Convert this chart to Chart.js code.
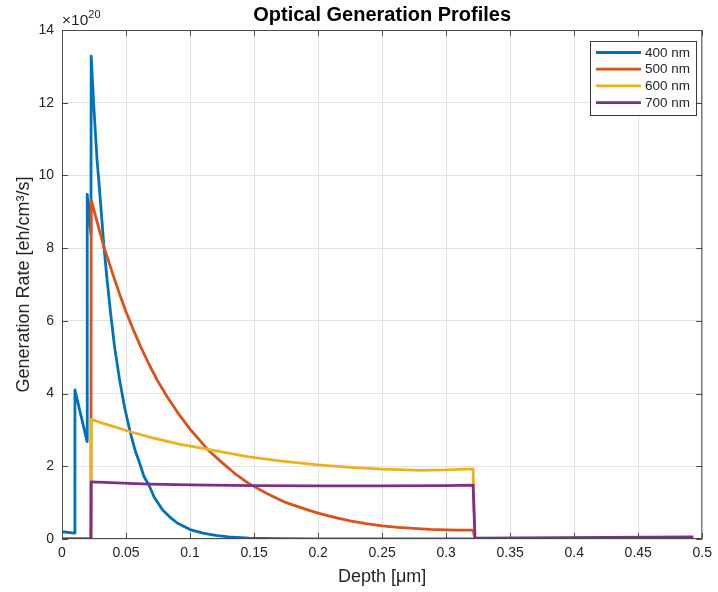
<!DOCTYPE html>
<html>
<head>
<meta charset="utf-8">
<script src="https://cdn.jsdelivr.net/npm/chart.js@4/dist/chart.umd.min.js"></script>
<style>
  body { margin: 0; background: #fff; }
  canvas { display: block; }
</style>
</head>
<body>
<canvas id="chart" width="718" height="592"></canvas>
<script>
const depth400 = [0, 0.0098, 0.0101, 0.0196, 0.0197, 0.0226, 0.0228, 0.025, 0.0274, 0.0287, 0.03, 0.0326, 0.035, 0.038, 0.041, 0.045, 0.049, 0.0532, 0.057, 0.06, 0.064, 0.0677, 0.072, 0.0786, 0.084, 0.09, 0.095, 0.1, 0.11, 0.12, 0.13, 0.146, 0.17, 0.2, 0.25, 0.321, 0.3225, 0.493]
const gen400 = [0.2, 0.16, 4.1, 2.68, 9.48, 8.4, 13.28, 11.8, 10.41, 9.87, 9.3, 8.1, 7.2, 6.2, 5.3, 4.37, 3.6, 2.95, 2.45, 2.15, 1.72, 1.5, 1.15, 0.8, 0.61, 0.44, 0.35, 0.26, 0.16, 0.1, 0.06, 0.025, 0.008, 0.003, 0.001, 0, 0, 0]

const depth500 = [0, 0.0226, 0.0228, 0.027, 0.0326, 0.04, 0.045, 0.05, 0.056, 0.0618, 0.068, 0.0747, 0.082, 0.0915, 0.1, 0.107, 0.1134, 0.125, 0.135, 0.1457, 0.16, 0.175, 0.19, 0.2, 0.212, 0.225, 0.2375, 0.25, 0.2625, 0.275, 0.2875, 0.3, 0.31, 0.321, 0.3225, 0.493]
const gen500 = [0, 0, 9.33, 8.78, 8.05, 7.25, 6.73, 6.25, 5.73, 5.26, 4.8, 4.35, 3.92, 3.42, 3.02, 2.74, 2.47, 2.1, 1.8, 1.53, 1.25, 1.0, 0.82, 0.71, 0.6, 0.5, 0.42, 0.36, 0.32, 0.29, 0.265, 0.25, 0.245, 0.245, 0.01, 0.02]

const depth600 = [0, 0.0226, 0.0228, 0.0295, 0.04, 0.0532, 0.07, 0.0915, 0.1134, 0.13, 0.146, 0.17, 0.2, 0.225, 0.25, 0.28, 0.3, 0.321, 0.3225, 0.493]
const gen600 = [0, 0, 3.29, 3.21, 3.1, 2.95, 2.79, 2.61, 2.47, 2.36, 2.26, 2.15, 2.04, 1.97, 1.92, 1.89, 1.9, 1.93, 0.01, 0.03]

const depth700 = [0, 0.0226, 0.0228, 0.0677, 0.1, 0.15, 0.2, 0.25, 0.3, 0.321, 0.3225, 0.493]
const gen700 = [0, 0, 1.57, 1.51, 1.49, 1.47, 1.46, 1.46, 1.47, 1.48, 0.02, 0.06]

const seriesLabels = ["400 nm", "500 nm", "600 nm", "700 nm"]
const seriesColors = ["#0072BD", "#D95319", "#EDB120", "#7E2F8E"]

const xTicks = [0, 0.05, 0.1, 0.15, 0.2, 0.25, 0.3, 0.35, 0.4, 0.45, 0.5]
const yTicks = [0, 2, 4, 6, 8, 10, 12, 14]

const FONT = "'Liberation Sans', Arial, Helvetica, sans-serif"
const TEXT = "#262626"

function zip(xs, ys) {
  return xs.map((x, i) => ({ x: x, y: ys[i] }))
}

const pairs = [[depth400, gen400], [depth500, gen500], [depth600, gen600], [depth700, gen700]]

// box, inward ticks, title, exponent and legend, matlab style
const matlabFrame = {
  id: "matlabFrame",
  afterDraw(chart) {
    const ctx = chart.ctx
    const a = chart.chartArea
    const xs = chart.scales.x
    const ys = chart.scales.y
    const tl = 6
    ctx.save()
    ctx.strokeStyle = "#4a4a4a"
    ctx.lineWidth = 1
    ctx.beginPath()
    ctx.rect(a.left + 0.5, a.top + 0.5, a.right - a.left - 1, a.bottom - a.top - 1)
    xTicks.forEach(v => {
      const px = Math.round(xs.getPixelForValue(v)) + 0.5
      ctx.moveTo(px, a.bottom); ctx.lineTo(px, a.bottom - tl)
      ctx.moveTo(px, a.top); ctx.lineTo(px, a.top + tl)
    })
    yTicks.forEach(v => {
      const py = Math.round(ys.getPixelForValue(v)) + 0.5
      ctx.moveTo(a.left, py); ctx.lineTo(a.left + tl, py)
      ctx.moveTo(a.right, py); ctx.lineTo(a.right - tl, py)
    })
    ctx.stroke()

    // title
    ctx.fillStyle = "#000"
    ctx.font = "bold 20px " + FONT
    ctx.textAlign = "center"
    ctx.textBaseline = "alphabetic"
    ctx.fillText("Optical Generation Profiles", (a.left + a.right) / 2, 21)

    // exponent
    ctx.fillStyle = TEXT
    ctx.textAlign = "left"
    ctx.font = "15.5px " + FONT
    ctx.fillText("\u00d710", a.left, 25)
    const w = ctx.measureText("\u00d710").width
    ctx.font = "11px " + FONT
    ctx.fillText("20", a.left + w, 18)

    // legend
    const bx = 590, by = 41, bw = 106, bh = 74
    ctx.fillStyle = "#fff"
    ctx.fillRect(bx, by, bw, bh)
    ctx.strokeStyle = "#3a3a3a"
    ctx.strokeRect(bx + 0.5, by + 0.5, bw, bh)
    ctx.font = "13.5px " + FONT
    ctx.textBaseline = "middle"
    seriesLabels.forEach((label, i) => {
      const y = 52.5 + i * 16.7
      ctx.strokeStyle = seriesColors[i]
      ctx.lineWidth = 2.8
      ctx.beginPath()
      ctx.moveTo(596, y); ctx.lineTo(641, y)
      ctx.stroke()
      ctx.fillStyle = TEXT
      ctx.fillText(label, 645, y + 0.5)
    })
    ctx.restore()
  }
}

new Chart(document.getElementById("chart"), {
  type: "scatter",
  data: {
    datasets: pairs.map((p, i) => ({
      label: seriesLabels[i],
      data: zip(p[0], p[1]),
      showLine: true,
      borderColor: seriesColors[i],
      backgroundColor: seriesColors[i],
      borderWidth: 2.8,
      borderJoinStyle: "round",
      pointRadius: 0,
      tension: 0,
      order: 3 - i
    }))
  },
  options: {
    responsive: false,
    animation: false,
    layout: { padding: { top: 30, right: 11, left: 0, bottom: 0 } },
    plugins: {
      legend: { display: false },
      tooltip: { enabled: false }
    },
    scales: {
      x: {
        type: "linear",
        min: 0,
        max: 0.5,
        afterBuildTicks: s => { s.ticks = xTicks.map(v => ({ value: v })) },
        afterFit: s => { s.height = 53 },
        grid: { color: "#e3e3e3", drawTicks: false },
        border: { display: false },
        ticks: {
          autoSkip: false,
          maxRotation: 0,
          padding: 6,
          color: TEXT,
          font: { family: FONT, size: 14 },
          callback: v => String(v)
        },
        title: {
          display: true,
          text: "Depth [\u03bcm]",
          color: TEXT,
          font: { family: FONT, size: 18 },
          padding: { top: 4, bottom: 4 }
        }
      },
      y: {
        type: "linear",
        min: 0,
        max: 14,
        afterBuildTicks: s => { s.ticks = yTicks.map(v => ({ value: v })) },
        afterFit: s => { s.width = 62 },
        grid: { color: "#e3e3e3", drawTicks: false },
        border: { display: false },
        ticks: {
          padding: 8,
          color: TEXT,
          font: { family: FONT, size: 14 }
        },
        title: {
          display: true,
          text: "Generation Rate [eh/cm\u00b3/s]",
          color: TEXT,
          font: { family: FONT, size: 18 },
          padding: { top: 13, bottom: 0 }
        }
      }
    }
  },
  plugins: [matlabFrame]
})
</script>
</body>
</html>
